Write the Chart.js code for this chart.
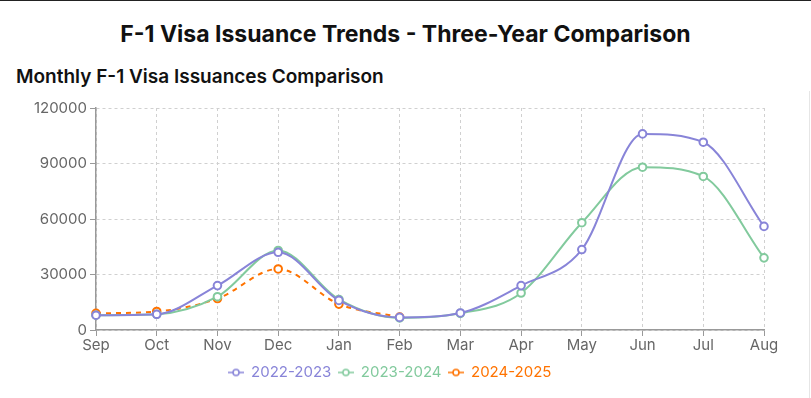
<!DOCTYPE html>
<html>
<head>
<meta charset="utf-8">
<script src="https://cdn.jsdelivr.net/npm/chart.js@4.4.1/dist/chart.umd.min.js"></script>
<style>
  html, body { margin: 0; padding: 0; background: #fff; }
  body { width: 811px; height: 398px; position: relative; overflow: hidden; font-family: Inter, "Noto Sans", sans-serif; border-top: 1px solid #222; box-sizing: border-box; }
  #rb { position: absolute; right: 1px; top: 90px; width: 1px; height: 308px; background: #e6e6e6; }
  h1 { position: absolute; top: 19px; left: 0; width: 811px; margin: 0; text-align: center; font-size: 23px; font-weight: 700; color: #111; }
  h2 { position: absolute; top: 64px; left: 16px; margin: 0; font-size: 19px; font-weight: 600; color: #111; }
  #wrap { position: absolute; left: 16px; top: 95px; width: 780px; height: 298px; }
</style>
</head>
<body>
<div id="rb"></div>
<h1>F-1 Visa Issuance Trends - Three-Year Comparison</h1>
<h2>Monthly F-1 Visa Issuances Comparison</h2>
<div id="wrap"><canvas id="c"></canvas></div>
<script>
const months = ["Sep","Oct","Nov","Dec","Jan","Feb","Mar","Apr","May","Jun","Jul","Aug"];
const seriesNames = ["2022-2023","2023-2024","2024-2025"];
const fy2022 = [8000, 8500, 24000, 42000, 16000, 6800, 9200, 24000, 43500, 106000, 101500, 56000];
const fy2023 = [8000, 8500, 18000, 43000, 16500, 6500, 9000, 20000, 58000, 88000, 83000, 39000];
const fy2024 = [9000, 10000, 17000, 33000, 14000, 7000, null, null, null, null, null, null];
const yTicks = [0, 30000, 60000, 90000, 120000];
const colors = ["#8884d8", "#82ca9d", "#ff7300"];

function icon(color) {
  const c = document.createElement('canvas');
  c.width = 16; c.height = 10;
  const x = c.getContext('2d');
  x.strokeStyle = color; x.lineWidth = 1.5;
  x.beginPath(); x.moveTo(0, 5); x.lineTo(16, 5); x.stroke();
  x.fillStyle = '#fff';
  x.beginPath(); x.arc(8, 5, 3, 0, Math.PI * 2); x.fill(); x.stroke();
  return c;
}

const ds = [fy2022, fy2023, fy2024].map((d, i) => ({
  label: seriesNames[i],
  data: d,
  borderColor: colors[i],
  backgroundColor: '#fff',
  borderWidth: 2,
  borderDash: i === 2 ? [5, 5] : [],
  pointRadius: 3.8,
  pointBorderWidth: 2,
  pointBackgroundColor: '#fff',
  pointBorderColor: colors[i],
  cubicInterpolationMode: 'monotone',
  spanGaps: false
}));

new Chart(document.getElementById('c'), {
  type: 'line',
  data: { labels: months, datasets: ds },
  options: {
    responsive: true,
    maintainAspectRatio: false,
    animation: false,
    layout: { padding: { top: 11, right: 32, bottom: 4, left: 0 } },
    plugins: {
      tooltip: { enabled: false },
      legend: {
        position: 'bottom',
        labels: {
          usePointStyle: true,
          boxWidth: 16,
          boxHeight: 10,
          padding: 7,
          font: { family: 'Inter', size: 15 },
          generateLabels: (chart) => chart.data.datasets.map((d, i) => ({
            text: d.label,
            fontColor: colors[i],
            pointStyle: icon(colors[i]),
            strokeStyle: colors[i],
            fillStyle: '#fff',
            lineWidth: 0,
            datasetIndex: i,
            hidden: false
          }))
        }
      }
    },
    scales: {
      x: {
        grid: { color: '#d0d0d0', drawTicks: true, tickLength: 6, tickColor: '#999', offset: false },
        border: { color: '#999', width: 1.5, dash: [3, 3] },
        ticks: { color: '#666', font: { family: 'Inter', size: 15 }, padding: 0, maxRotation: 0, autoSkip: false },
        afterFit: s => { s.height = 28; }
      },
      y: {
        min: 0, max: 120000,
        afterBuildTicks: s => { s.ticks = yTicks.map(v => ({ value: v })); },
        grid: { color: '#d0d0d0', tickLength: 6, tickColor: '#999' },
        border: { color: '#999', width: 1.5, dash: [3, 3] },
        ticks: { color: '#666', font: { family: 'Inter', size: 15 }, padding: 3, callback: v => String(v) },
        afterFit: s => { s.width = 80; }
      }
    }
  }
});
</script>
</body>
</html>
